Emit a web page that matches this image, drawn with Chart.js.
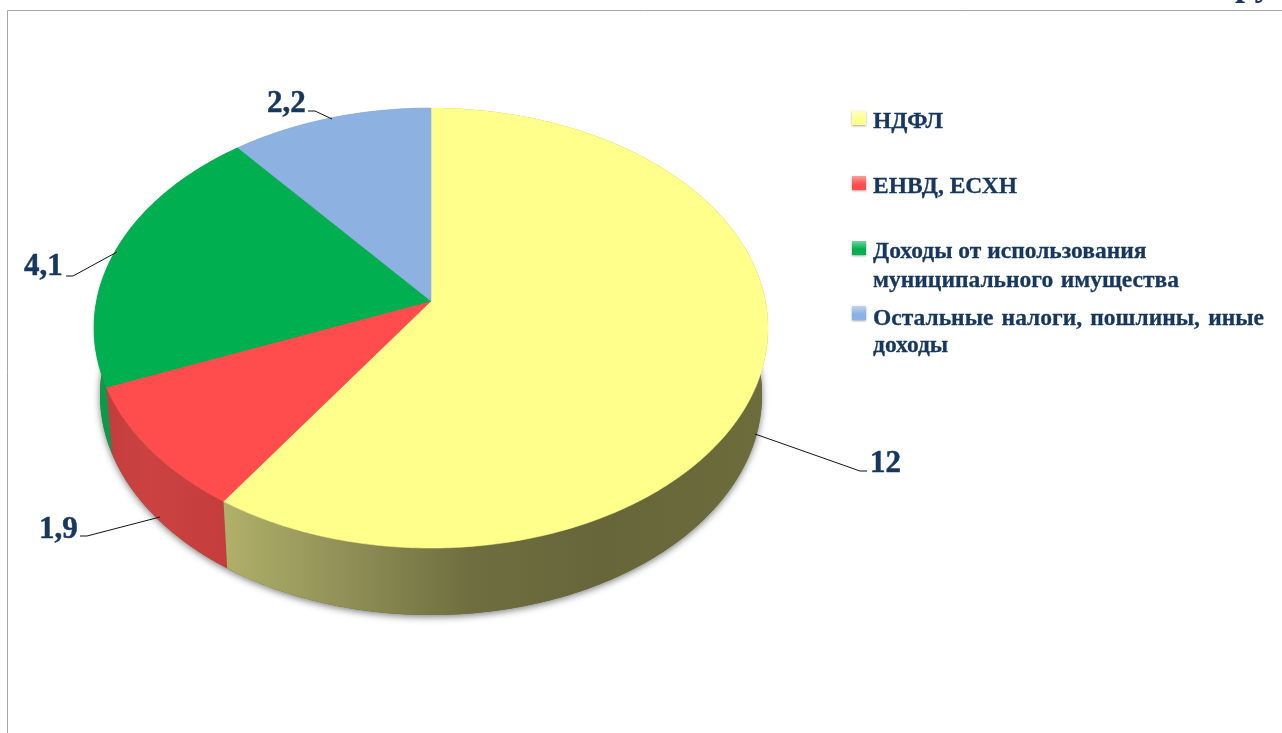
<!DOCTYPE html>
<html lang="ru">
<head>
<meta charset="utf-8">
<title>Доходы</title>
<script src="https://cdn.jsdelivr.net/npm/chart.js@4/dist/chart.umd.min.js"></script>
<style>
html,body{margin:0;padding:0;background:#fff;overflow:hidden}
canvas{display:block}
</style>
</head>
<body>
<canvas id="c" width="1282" height="733" style="width:1282px;height:733px"></canvas>
<script>
const categories = ['НДФЛ', 'ЕНВД, ЕСХН', 'Доходы от использования муниципального имущества', 'Остальные налоги, пошлины, иные доходы'];
const values = [12, 1.9, 4.1, 2.2];
const topColors = ['#FFFF8C', '#FF4D4D', '#00B050', '#8DB1E1'];
const legendLines = [['НДФЛ'], ['ЕНВД, ЕСХН'], ['Доходы от использования', 'муниципального имущества'], ['Остальные налоги, пошлины, иные', 'доходы']];

const TEXT = '#17375E';
const FONT = '"Liberation Serif"';
const P = 0.1227;

// projective rim point: angle measured clockwise from 12 o'clock
function rim(theta, g) {
  const X = Math.sin(theta), Y = -Math.cos(theta), w = 1 - P * Y;
  return [g.cx + g.R * X / w, g.cy + g.S * Y / w];
}
const topFace = {cx: 431, cy: 301, R: 334.5, S: 216.7};
const botFace = {cx: 431, cy: 368, R: 328.5, S: 216.7};

function wallGradient(ctx, i) {
  const g = ctx.createLinearGradient(0, 0, 1282, 0);
  const stops = [
    [[225,'#B0B068'],[330,'#94945A'],[470,'#6E6E40'],[600,'#66663A'],[770,'#6C6C3C']],
    [[100,'#C23C3C'],[150,'#CC4242'],[230,'#C43C3C']],
    [[90,'#0A9A4C'],[130,'#0A9A4C']],
    [[200,'#6E8CB4'],[430,'#6E8CB4']]
  ][i];
  stops.forEach(s => g.addColorStop(s[0] / 1282, s[1]));
  return g;
}

function trace(ctx, a, b, g, first) {
  const n = Math.max(2, Math.ceil(Math.abs(b - a) / 0.01));
  for (let k = 0; k <= n; k++) {
    const p = rim(a + (b - a) * k / n, g);
    if (k === 0 && first) ctx.moveTo(p[0], p[1]); else ctx.lineTo(p[0], p[1]);
  }
}

const leaders = [
  {pts: [[755,434],[860,471],[867,471]], tx: 870, ty: 472},
  {pts: [[160,517],[87,536],[80,536]], tx: 39, ty: 538},
  {pts: [[117,252],[73,276],[66,276]], tx: 24, ty: 275},
  {pts: [[332,119],[315,111],[308,111]], tx: 267, ty: 112}
];
const legendY = [118, 183, 248, 313];
const lineY = [[128], [193], [258, 287], [325, 352]];
const lineJustify = [[0], [0], [0, 306], [391, 0]];

const projectedPie = {
  id: 'projectedPie',
  beforeDatasetsDraw(chart) {
    const ctx = chart.ctx;
    const arcs = chart.getDatasetMeta(0).data;
    const ang = arcs.map(a => [a.startAngle + Math.PI / 2, a.endAngle + Math.PI / 2]);

    // frame
    ctx.save();
    ctx.strokeStyle = '#A6A6A6';
    ctx.lineWidth = 1;
    ctx.beginPath();
    ctx.moveTo(7.5, 733); ctx.lineTo(7.5, 10.5); ctx.lineTo(1282, 10.5);
    ctx.stroke();
    ctx.restore();

    // clipped heading fragment at the top edge
    ctx.save();
    ctx.fillStyle = TEXT;
    ctx.font = 'bold 36px ' + FONT;
    ctx.textBaseline = 'alphabetic';
    ctx.fillText('ру', 1235, -5.5);
    ctx.restore();

    // soft shadow cast by the lower rim
    ctx.save();
    ctx.shadowColor = 'rgba(0,0,0,0.5)';
    ctx.shadowBlur = 7;
    ctx.shadowOffsetY = 2;
    ctx.beginPath();
    trace(ctx, 0, Math.PI * 2, botFace, true);
    ctx.closePath();
    ctx.fillStyle = '#66663A';
    ctx.fill();
    ctx.restore();

    // side walls
    [3, 2, 1, 0].forEach(i => {
      ctx.beginPath();
      trace(ctx, ang[i][0], ang[i][1], topFace, true);
      trace(ctx, ang[i][1], ang[i][0], botFace, false);
      ctx.closePath();
      ctx.fillStyle = wallGradient(ctx, i);
      ctx.fill();
    });

    // top faces
    arcs.forEach((a, i) => {
      ctx.beginPath();
      ctx.moveTo(topFace.cx, topFace.cy);
      trace(ctx, ang[i][0], ang[i][1], topFace, false);
      ctx.closePath();
      ctx.fillStyle = a.options.backgroundColor;
      ctx.fill();
      ctx.strokeStyle = a.options.backgroundColor;
      ctx.lineWidth = 0.6;
      ctx.stroke();
    });
    return false;
  },
  afterDraw(chart) {
    const ctx = chart.ctx;
    const vals = chart.data.datasets[0].data;

    // leaders and value labels
    ctx.save();
    leaders.forEach((l, i) => {
      ctx.strokeStyle = '#111';
      ctx.lineWidth = 1;
      ctx.beginPath();
      l.pts.forEach((p, k) => k ? ctx.lineTo(p[0], p[1]) : ctx.moveTo(p[0], p[1]));
      ctx.stroke();
      ctx.fillStyle = TEXT;
      ctx.strokeStyle = TEXT;
      ctx.lineWidth = 0.5;
      ctx.font = 'bold 31px ' + FONT;
      ctx.textAlign = 'left';
      ctx.textBaseline = 'alphabetic';
      const s = String(vals[i]).replace('.', ',');
      ctx.fillText(s, l.tx, l.ty);
      ctx.strokeText(s, l.tx, l.ty);
    });
    ctx.restore();

    // legend
    ctx.save();
    chart.data.labels.forEach((lab, i) => {
      const y = legendY[i];
      const c = chart.data.datasets[0].backgroundColor[i];
      ctx.save();
      ctx.shadowColor = 'rgba(0,0,0,0.35)';
      ctx.shadowBlur = 2;
      ctx.shadowOffsetY = 1;
      ctx.fillStyle = c;
      ctx.fillRect(852, y - 7, 14, 14);
      ctx.restore();
      const g = ctx.createLinearGradient(0, y - 7, 0, y + 1);
      g.addColorStop(0, 'rgba(255,255,255,0.45)');
      g.addColorStop(1, 'rgba(255,255,255,0)');
      ctx.fillStyle = g;
      ctx.fillRect(852, y - 7, 14, 14);

      ctx.fillStyle = TEXT;
      ctx.strokeStyle = TEXT;
      ctx.lineWidth = 0.3;
      ctx.font = 'bold 23.5px ' + FONT;
      ctx.textBaseline = 'alphabetic';
      legendLines[i].forEach((line, k) => {
        const target = lineJustify[i][k];
        const spaces = (line.match(/ /g) || []).length;
        ctx.wordSpacing = '0px';
        if (target && spaces) {
          const w = ctx.measureText(line).width;
          ctx.wordSpacing = ((target - w) / spaces) + 'px';
        }
        ctx.fillText(line, 873, lineY[i][k]);
        ctx.strokeText(line, 873, lineY[i][k]);
      });
      ctx.wordSpacing = '0px';
    });
    ctx.restore();
  }
};

new Chart(document.getElementById('c'), {
  type: 'pie',
  data: {
    labels: categories,
    datasets: [{data: values, backgroundColor: topColors, borderWidth: 0}]
  },
  options: {
    responsive: false,
    animation: false,
    plugins: {legend: {display: false}, tooltip: {enabled: false}}
  },
  plugins: [projectedPie]
});
</script>
</body>
</html>
